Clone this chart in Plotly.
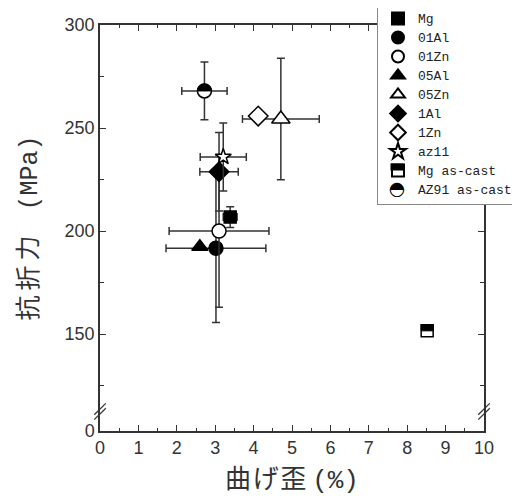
import plotly.graph_objects as go

# ---- data ----
names = ["Mg", "01Al", "01Zn", "05Al", "05Zn", "1Al", "1Zn", "az11", "Mg as-cast", "AZ91 as-cast"]
strain = [3.39, 3.02, 3.10, 2.60, 4.71, 3.10, 4.12, 3.21, 8.52, 2.72]
strength = [206.8, 191.7, 200.0, 192.4, 254.4, 228.8, 255.8, 236.0, 151.6, 268.0]
strain_err = [0.18, 1.30, 1.30, 0.0, 1.00, 0.50, 0.0, 0.60, 0.12, 0.59]
strength_err = [5.0, 36.0, 37.0, 0.0, 29.5, 19.0, 0.0, 16.5, 0.0, 14.0]

x_ticks = list(range(0, 11))
y_tickvals = [103, 150, 200, 250, 300]
y_ticktext = ["0", "150", "200", "250", "300"]

# ---- styles ----
symbols = ["square", "circle", "circle-open", "triangle-up", "triangle-up-open",
           "diamond", "diamond-open", "star-open", "square", "circle"]
sizes = [12, 14, 14, 14, 16, 15, 15, 12, 12, 14]
half = [False] * 8 + [True, True]

# page body has an 8px margin; compensate so the plot area sits where the reference has it
W, H = 512, 491
ML, MR, MT, MB = 92, 36, 17, 68
PLOT_W = W - ML - MR
PLOT_H = H - MT - MB
LEG_LEFT_PX, LEG_TOP_PX = 277, -22          # relative to plot-area top-left
LEG_X, LEG_Y = LEG_LEFT_PX / PLOT_W, 1 - LEG_TOP_PX / PLOT_H
LEG_ICON_DX, LEG_ROW0, LEG_ROW = 20, 14.5, 19
MONO = "Liberation Mono"


def top_half_path(sym, r):
    if sym == "circle":
        k = 0.5523 * r
        return (f"M {-r},0 C {-r},{k} {-k},{r} 0,{r} "
                f"C {k},{r} {r},{k} {r},0 Z")
    return f"M {-r},0 L {-r},{r} L {r},{r} L {r},0 Z"


fig = go.Figure()
for i, n in enumerate(names):
    open_ = symbols[i].endswith("open") or half[i]
    sym = symbols[i].replace("-open", "")
    fig.add_trace(go.Scatter(
        x=[strain[i]], y=[strength[i]], name=f"<span style='font-size:13px'>{n}</span>",
        mode="markers",
        marker=dict(symbol=sym, size=sizes[i],
                    color="white" if open_ else "black",
                    line=dict(color="black", width=1.5)),
        error_x=dict(type="data", array=[strain_err[i]], visible=strain_err[i] > 0,
                     color="#333", thickness=1.5, width=4),
        error_y=dict(type="data", array=[strength_err[i]], visible=strength_err[i] > 0,
                     color="#333", thickness=1.5, width=4),
    ))

shapes = []
annotations = []
for i, n in enumerate(names):
    if not half[i]:
        continue
    r = sizes[i] / 2
    # top-half fill anchored at the data point
    shapes.append(dict(type="path", xref="x", yref="y", xsizemode="pixel", ysizemode="pixel",
                       xanchor=strain[i], yanchor=strength[i],
                       path=top_half_path(symbols[i], r),
                       fillcolor="black", line=dict(color="black", width=1), layer="above"))
    # same fill on the legend icon (annotations are drawn above the legend)
    lx = (LEG_LEFT_PX + LEG_ICON_DX) / PLOT_W
    ly = 1 - (LEG_TOP_PX + LEG_ROW0 + LEG_ROW * i) / PLOT_H
    if symbols[i] == "circle":
        annotations.append(dict(xref="paper", yref="paper", x=lx, y=ly, xanchor="center",
                                yanchor="middle", text="◓", showarrow=False,
                                font=dict(family="DejaVu Sans", size=19, color="black"),
                                bgcolor="white", width=16, height=18, borderpad=0))
    else:
        annotations.append(dict(xref="paper", yref="paper", x=lx, y=ly, xanchor="center",
                                yanchor="middle", yshift=3, text=" ", showarrow=False,
                                font=dict(size=1), bgcolor="black",
                                width=12, height=6, borderpad=0))

# axis-break marks
for xp in (0, 1):
    for dy in (-0.012, 0.0):
        shapes.append(dict(type="line", xref="paper", yref="paper",
                           x0=xp - 0.015, x1=xp + 0.015, y0=0.04 + dy, y1=0.068 + dy,
                           line=dict(color="#333", width=1.3)))

fig.update_layout(
    width=W, height=H,
    margin=dict(l=ML, r=MR, t=MT, b=MB, autoexpand=False),
    paper_bgcolor="white", plot_bgcolor="white",
    font=dict(family="Liberation Sans, Arial", size=18, color="#333"),
    showlegend=True,
    legend=dict(x=LEG_X, y=LEG_Y, xanchor="left", yanchor="top",
                bordercolor="#888", borderwidth=1, bgcolor="white",
                font=dict(family=MONO, size=12, color="#222"),
                tracegroupgap=0, itemsizing="constant"),
    shapes=shapes,
    annotations=annotations,
    xaxis=dict(range=[0, 10], tickvals=x_ticks, ticks="inside", ticklen=6, tickwidth=1.3,
               tickcolor="#333", showline=True, linecolor="#333", linewidth=1.5,
               mirror="ticks", showgrid=False, zeroline=False,
               minor=dict(dtick=0.5, tick0=0, ticks="inside", ticklen=3, tickcolor="#333"),
               title=dict(text=f"曲\u200aげ\u200a歪 <span style='font-family:{MONO}'>(%)</span>",
                          font=dict(family="Noto Sans CJK JP", size=26, color="#333"),
                          standoff=8)),
    yaxis=dict(range=[103, 300], tickvals=y_tickvals, ticktext=y_ticktext, ticks="inside",
               ticklen=6, tickwidth=1.3, tickcolor="#333", showline=True, linecolor="#333",
               linewidth=1.5, mirror="ticks", showgrid=False, zeroline=False,
               minor=dict(tickvals=[125, 175, 225, 275], ticks="inside", ticklen=4, tickcolor="#333"),
               title=dict(text=f"抗\u2009折\u2009力\u3000<span style='font-family:{MONO}'>(MPa)</span>",
                          font=dict(family="Noto Sans CJK JP", size=25, color="#333"),
                          standoff=22)),
)

fig.write_html("out.html")
